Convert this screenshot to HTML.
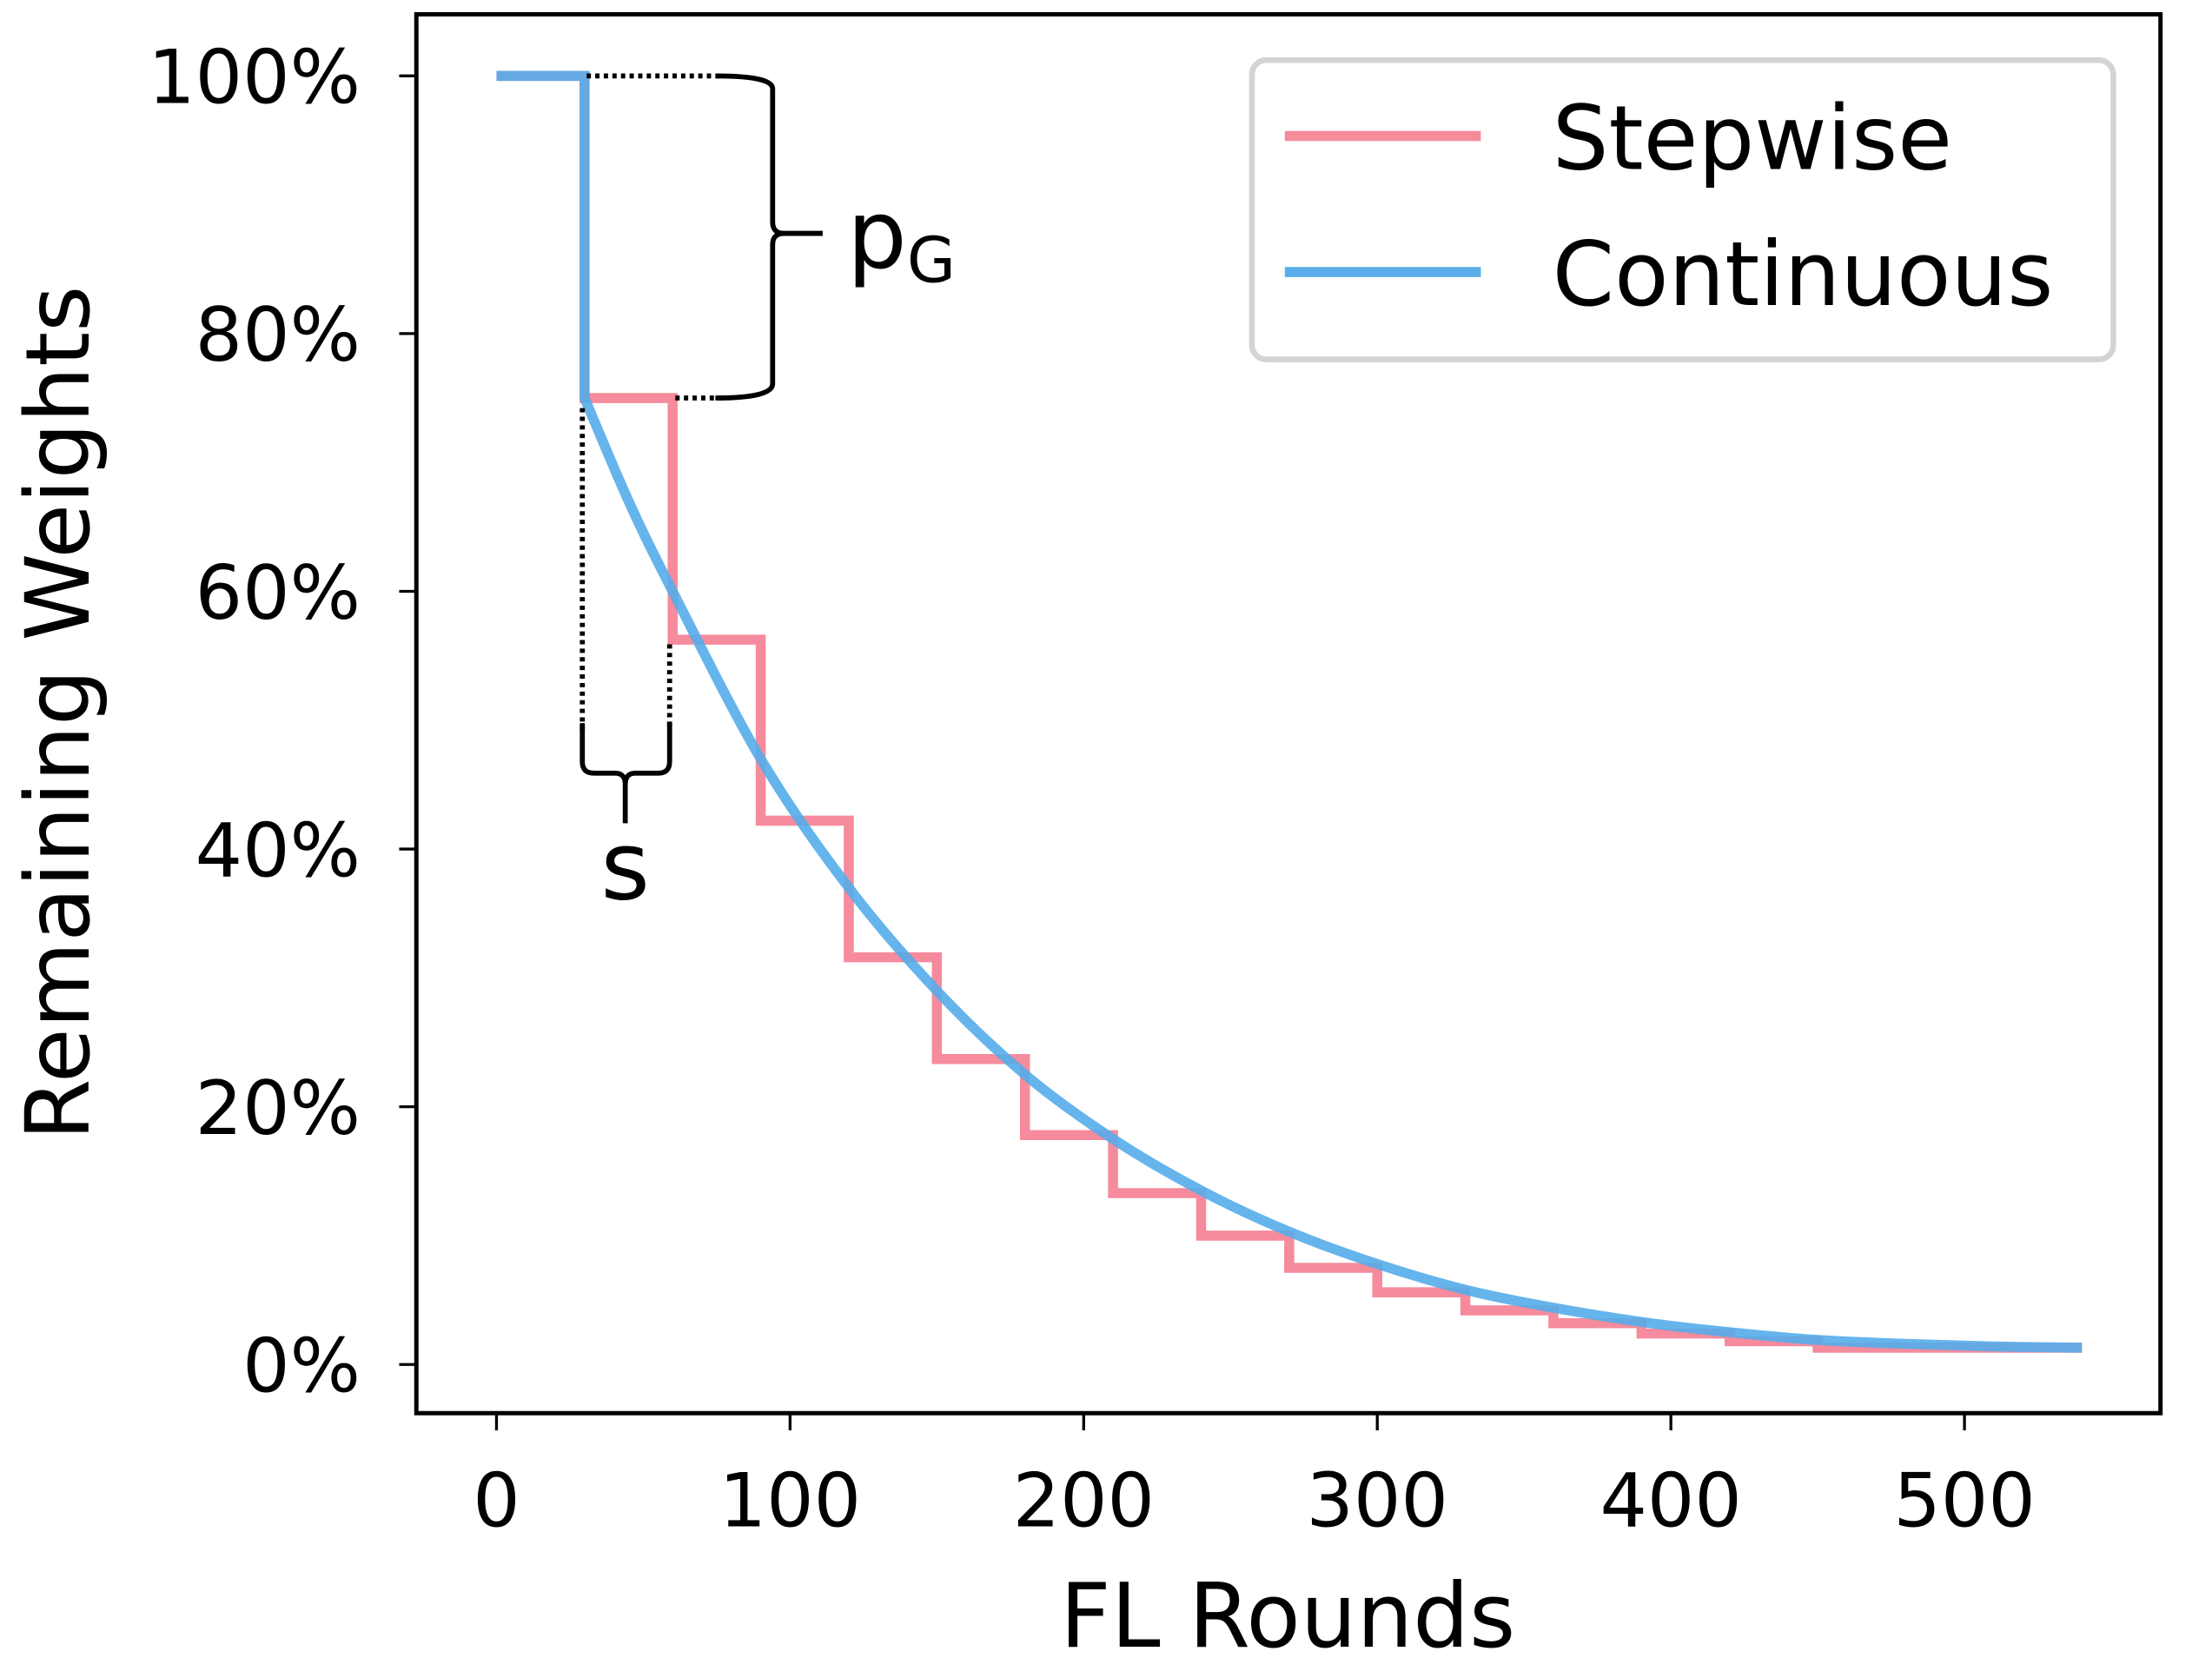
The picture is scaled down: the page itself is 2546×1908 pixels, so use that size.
<!DOCTYPE html>
<html><head><meta charset="utf-8"><style>
html,body{margin:0;padding:0;background:#fff}
svg{display:block}
text{font-family:"DejaVu Sans","Liberation Sans",sans-serif;fill:#000}
</style></head><body>
<svg id="chart" width="2546" height="1908" viewBox="0 0 1546 1158" preserveAspectRatio="none" xmlns="http://www.w3.org/2000/svg">
<g id="plot"></g>
</svg>
<script>
const xTicks=[0,100,200,300,400,500];
const yTicks=[0,20,40,60,80,100];
const stepX=[0,30,60,90,120,150,180,210,240,270,300,330,360,390,420,450,540];
const stepY=[100,75,56.25,42.2,31.6,23.7,17.8,13.3,10,7.5,5.6,4.2,3.2,2.4,1.8,1.3,1.3];
const contX=[0,30,30,45,60,90,120,150,180,210,240,270,300,330,360,390,420,450,480,510,540];
const contY=[100,100,75,67,60,47,37,29,22.5,17.5,13.5,10.3,7.8,5.8,4.4,3.3,2.5,1.9,1.6,1.4,1.3];
const L=291,R=1510,T=10,B=987;
const X=v=>347+v*(1373-347)/500;
const Y=v=>953-v*(953-53)/100;
const NS='http://www.w3.org/2000/svg';
const svg=document.getElementById('chart');
function mk(tag,attrs,parent){const e=document.createElementNS(NS,tag);for(const k in attrs)e.setAttribute(k,attrs[k]);(parent||svg).appendChild(e);return e;}
let d='';
for(let i=0;i<stepX.length-1;i++){d+=(i?'L':'M')+X(stepX[i])+' '+Y(stepY[i])+' L'+X(stepX[i+1])+' '+Y(stepY[i]);}
let p=mk('path',{d:d,fill:'none',stroke:'#f58b9c','stroke-width':7});


let pts=contX.map((x,i)=>[X(x),Y(contY[i])]);
let d2='M'+pts[0][0]+' '+pts[0][1]+' L'+pts[1][0]+' '+pts[1][1]+' L'+pts[2][0]+' '+pts[2][1];
for(let i=2;i<pts.length-1;i++){const p0=pts[Math.max(2,i-1)],p1=pts[i],p2=pts[i+1],p3=pts[Math.min(pts.length-1,i+2)];
d2+=' C'+(p1[0]+(p2[0]-p0[0])/6)+' '+(p1[1]+(p2[1]-p0[1])/6)+' '+(p2[0]-(p3[0]-p1[0])/6)+' '+(p2[1]-(p3[1]-p1[1])/6)+' '+p2[0]+' '+p2[1];}
let c=mk('path',{d:d2,fill:'none',stroke:'#55acea','stroke-width':7,'stroke-opacity':0.9});


let fr=mk('rect',{x:L,y:T,width:R-L,height:B-T,fill:'none',stroke:'#000','stroke-width':3});


xTicks.forEach(v=>{mk('line',{x1:X(v),x2:X(v),y1:B,y2:B+12,stroke:'#000','stroke-width':2});
let t=mk('text',{x:X(v),y:1066,'font-size':52,'text-anchor':'middle'});t.textContent=v;

});
yTicks.forEach(v=>{mk('line',{x1:L,x2:L-12,y1:Y(v),y2:Y(v),stroke:'#000','stroke-width':2});
let t=mk('text',{x:252,y:Y(v)+19,'font-size':52,'text-anchor':'end'});t.textContent=v+'%';

});
</script>
<svg style="position:absolute;left:0;top:0" width="2546" height="1908" viewBox="0 0 1546 1158" preserveAspectRatio="none" xmlns="http://www.w3.org/2000/svg">
<text x="900" y="1150" font-size="62" text-anchor="middle" style="font-family:'DejaVu Sans','Liberation Sans',sans-serif">FL Rounds</text>
<text transform="translate(62,498) rotate(-90)" font-size="62" text-anchor="middle" style="font-family:'DejaVu Sans','Liberation Sans',sans-serif">Remaining Weights</text>
<g>
<rect x="875" y="42" width="602" height="209" rx="10" fill="#fff" fill-opacity="0.85" stroke="#d4d4d4" stroke-width="4"/>
<line x1="898" x2="1035" y1="95" y2="95" stroke="#f58b9c" stroke-width="7"/>
<text x="1085" y="118" font-size="62" style="font-family:'DejaVu Sans','Liberation Sans',sans-serif">Stepwise</text>
<line x1="898" x2="1035" y1="190" y2="190" stroke="#5aaeea" stroke-width="7"/>
<text x="1085" y="213" font-size="62" style="font-family:'DejaVu Sans','Liberation Sans',sans-serif">Continuous</text>
</g>
<g fill="none" stroke="#000">
<line x1="410" y1="53" x2="505" y2="53" stroke-width="3.5" stroke-dasharray="3,3"/>
<line x1="472" y1="278" x2="505" y2="278" stroke-width="3.5" stroke-dasharray="3,3"/>
<path d="M500 53 Q540 53 540 62 L540 155 Q540 163 548 163 L575 163 M548 163 Q540 163 540 171 L540 268 Q540 278 500 278" stroke-width="3.5"/>
</g>
<text x="592" y="187" font-size="66" style="font-family:'DejaVu Sans','Liberation Sans',sans-serif">p<tspan font-size="44" dy="10">G</tspan></text>
<g fill="none" stroke="#000">
<line x1="407" y1="285" x2="407" y2="510" stroke-width="3.5" stroke-dasharray="3,3"/>
<line x1="468" y1="450" x2="468" y2="510" stroke-width="3.5" stroke-dasharray="3,3"/>
<path d="M407 505 L407 532 Q407 540 415 540 L430 540 Q437 540 437 548 L437 575 M437 548 Q437 540 444 540 L460 540 Q468 540 468 532 L468 505" stroke-width="3.5"/>
</g>
<text x="437" y="628" font-size="66" text-anchor="middle" style="font-family:'DejaVu Sans','Liberation Sans',sans-serif">s</text>
</svg>
</body></html>
